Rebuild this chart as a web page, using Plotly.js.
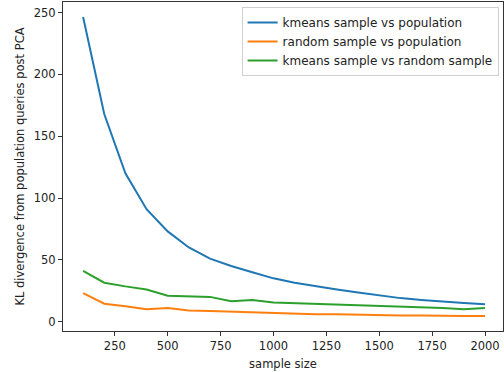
<!DOCTYPE html>
<html>
<head>
<meta charset="utf-8">
<script src="https://cdn.plot.ly/plotly-3.0.1.min.js"></script>
<style>html,body{margin:0;padding:0;background:#fff;}#chart{width:504px;height:372px;}</style>
</head>
<body>
<div id="chart"></div>
<script>
const sampleSize = [100,200,300,400,500,600,700,800,900,1000,1100,1200,1300,1400,1500,1600,1700,1800,1900,2000];
const kmeansVsPopulation = [246.5,168,120,91,73,60,51,45,40,35,31.5,28.5,26,23.5,21,19,17.5,16,15,14];
const randomVsPopulation = [23,14.5,12.5,10,11,9,8.5,8,7,6.5,6.5,6,6,5.5,5,5,5,4.5,4.5,4.5];
const kmeansVsRandom = [41,31.5,28.5,26,21,20.5,20,16.5,17.5,15.5,15,14.5,13.5,13,13,12,12,11,10,11];
const seriesNames = ["kmeans sample vs population","random sample vs population","kmeans sample vs random sample"];
const colors = ["#1f77b4","#ff7f0e","#2ca02c"];
const series = [kmeansVsPopulation, randomVsPopulation, kmeansVsRandom];

const traces = series.map((s,i)=>({
  x: sampleSize, y: s, type:'scatter', mode:'lines', name: seriesNames[i],
  line:{color:colors[i], width:2}
}));

const font = {family:'DejaVu Sans, sans-serif', size:11.5, color:'#222'};
const titleFont = {family:'DejaVu Sans, sans-serif', size:11.5, color:'#222'};
const layout = {
  width:504, height:372,
  margin:{l:63, r:1, t:2, b:41},
  paper_bgcolor:'#fff', plot_bgcolor:'#fff',
  font: font,
  showlegend:true,
  legend:{x:0.99, y:0.985, xanchor:'right', yanchor:'top', bgcolor:'rgba(255,255,255,0.8)',
          bordercolor:'#d0d0d0', borderwidth:1, font:{family:'DejaVu Sans, sans-serif', size:12, color:'#222'},
          tracegroupgap:0},
  xaxis:{range:[5,2085], tickvals:[250,500,750,1000,1250,1500,1750,2000], showgrid:false, zeroline:false,
         showline:true, linecolor:'#333', linewidth:1, mirror:true, ticks:'outside', ticklen:4, tickcolor:'#333',
         tickfont:font, title:{text:'sample size', font:titleFont, standoff:8}},
  yaxis:{range:[-7.6,258.6], tickvals:[0,50,100,150,200,250], showgrid:false, zeroline:false,
         showline:true, linecolor:'#333', linewidth:1, mirror:true, ticks:'outside', ticklen:4, tickcolor:'#333',
         tickfont:font, title:{text:'KL divergence from population queries post PCA', font:titleFont, standoff:6}}
};
Plotly.newPlot('chart', traces, layout, {staticPlot:true, displayModeBar:false});
</script>
</body>
</html>
